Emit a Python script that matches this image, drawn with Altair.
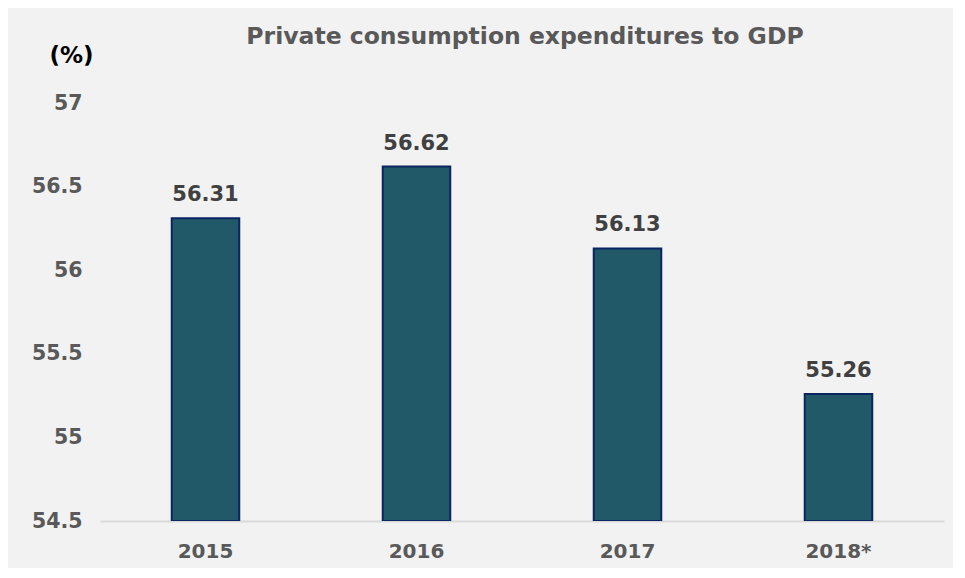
import altair as alt
import pandas as pd

years = ["2015", "2016", "2017", "2018*"]
values = [56.31, 56.62, 56.13, 55.26]
y_ticks = [54.5, 55, 55.5, 56, 56.5, 57]

df = pd.DataFrame({"year": years, "value": values})
df["label"] = [f"{v:.2f}" for v in values]

FONT = "DejaVu Sans"

x_enc = alt.X("year:N", sort=years,
              scale=alt.Scale(paddingInner=0.68, paddingOuter=0.34),
              axis=alt.Axis(title=None, labelAngle=0, labelFont=FONT, labelFontSize=20,
                            labelFontWeight="bold", labelColor="#595959", labelPadding=20,
                            labelBaseline="top",
                            ticks=False, domain=True, domainColor="#D9D9D9", domainWidth=2,
                            grid=False))
y_enc = alt.Y("value:Q",
              scale=alt.Scale(domain=[54.5, 57], zero=False, nice=False),
              axis=alt.Axis(values=y_ticks, format="~g", labelFont=FONT, labelFontSize=20.5,
                            labelFontWeight="bold", labelColor="#595959", labelPadding=18,
                            ticks=False, domain=False, grid=False,
                            title="(%)", titleAngle=0, titleFont=FONT, titleFontSize=23,
                            titleFontWeight="bold", titleColor="#000000",
                            titleAlign="center", titleBaseline="middle",
                            titleX=-29, titleY=-48))

bars = alt.Chart(df).mark_bar(color="#215968", stroke="#0B2560", strokeWidth=2,
                              clip=True).encode(
    x=x_enc, y=y_enc, y2=alt.datum(54.5))

labels = alt.Chart(df).mark_text(font=FONT, fontSize=21, fontWeight="bold",
                                 color="#404040", baseline="alphabetic", dy=-17).encode(
    x=alt.X("year:N", sort=years), y=alt.Y("value:Q"), text="label:N")

chart = alt.layer(bars, labels).properties(
    width=844, height=418,
    autosize=alt.AutoSizeParams(type="none"),
    padding={"left": 92, "top": 95, "right": 9, "bottom": 47},
    background="#F2F2F2",
    title=alt.TitleParams("Private consumption expenditures to GDP", font=FONT,
                          fontSize=23.5, fontWeight="bold", color="#595959",
                          anchor="middle", offset=-4, dx=3),
).configure_view(stroke=None)

chart.save("out.html", embed_options={"renderer": "svg", "actions": False})
